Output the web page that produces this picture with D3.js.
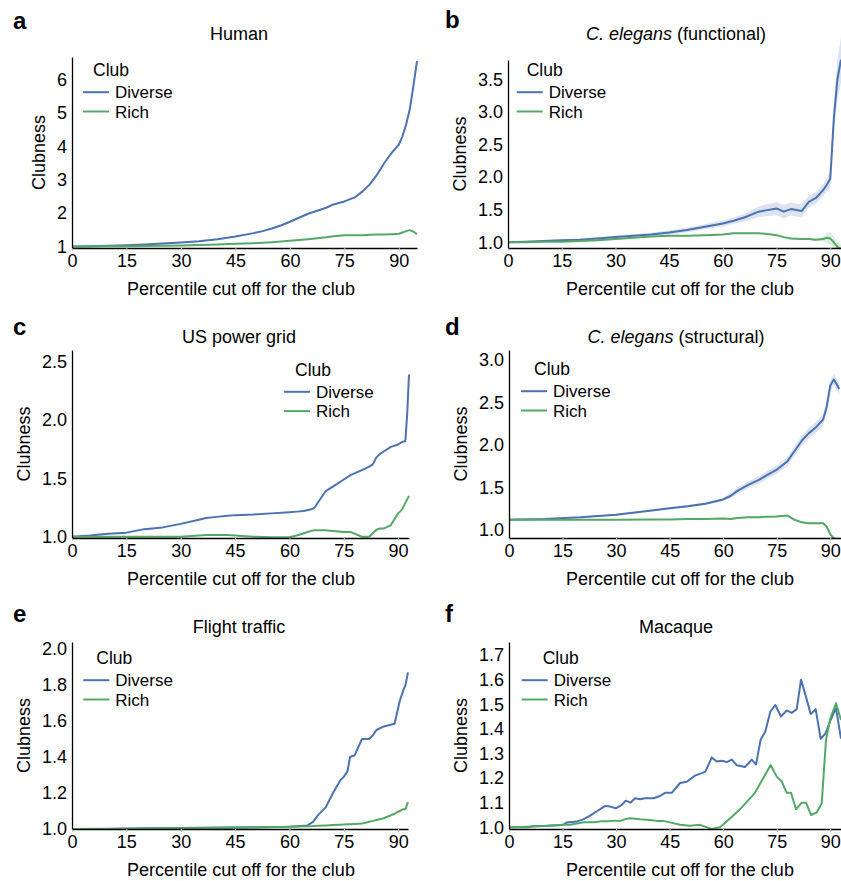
<!DOCTYPE html>
<html>
<head>
<meta charset="utf-8">
<script src="https://cdn.jsdelivr.net/npm/d3@7"></script>
<style>
  body { margin: 0; background: #fff; }
  svg { display: block; font-family: "Liberation Sans", Arial, Helvetica, sans-serif; }
</style>
</head>
<body>
<div id="fig"></div>
<script>

// shared bits
const xTicks = [0, 15, 30, 45, 60, 75, 90];
const seriesNames = ["Diverse", "Rich"];
const seriesColors = ["#4c72b0", "#55a868"];

// a - Human
const humanPct = [0,5,10,15,20,25,30,35,40,45,50,52.5,55,57.5,60,65,70,72,75,78,80,82,84,86,88,90,91,92,93,94,95];
const humanDiverse = [1.0,1.01,1.02,1.04,1.06,1.09,1.12,1.16,1.22,1.3,1.4,1.46,1.54,1.63,1.74,1.98,2.16,2.26,2.35,2.48,2.65,2.86,3.15,3.5,3.8,4.05,4.3,4.65,5.1,5.8,6.55];
const humanRich = [1.0,1.0,1.005,1.01,1.015,1.02,1.03,1.045,1.06,1.08,1.1,1.115,1.13,1.15,1.17,1.22,1.28,1.31,1.34,1.34,1.34,1.35,1.36,1.36,1.37,1.38,1.42,1.46,1.49,1.45,1.37];
const humanTicks = [1, 2, 3, 4, 5, 6];

// b - C. elegans (functional)
const funcPct = [0,5,10,15,20,25,30,35,40,45,50,55,60,63,66,70,72,75,77,79,82,84,86,88,89,90,91,92,93];
const funcDiverse = [1.0,1.01,1.02,1.03,1.04,1.06,1.08,1.1,1.12,1.15,1.19,1.24,1.29,1.33,1.38,1.47,1.49,1.52,1.47,1.51,1.48,1.62,1.68,1.8,1.88,1.97,2.9,3.5,3.8];
const funcDiverseCI = [0.01,0.01,0.015,0.015,0.02,0.02,0.02,0.025,0.025,0.03,0.035,0.04,0.045,0.05,0.06,0.08,0.09,0.1,0.1,0.1,0.1,0.09,0.09,0.09,0.1,0.14,0.22,0.3,0.35];
const funcRich = [1.0,1.0,1.01,1.01,1.02,1.03,1.05,1.07,1.09,1.1,1.1,1.11,1.12,1.14,1.14,1.14,1.13,1.11,1.08,1.06,1.05,1.05,1.04,1.05,1.07,1.06,1.0,0.93,0.9];
const funcRichCI = [0.005,0.005,0.005,0.005,0.005,0.005,0.01,0.01,0.01,0.01,0.01,0.01,0.01,0.01,0.01,0.01,0.01,0.015,0.015,0.015,0.015,0.015,0.02,0.03,0.08,0.1,0.09,0.08,0.07];
const funcTicks = [1.0, 1.5, 2.0, 2.5, 3.0, 3.5];

// c - US power grid
const gridPct = [0,5,10,15,20,25,30,35,37,40,43,45,50,55,60,62,64,66,67,68,70,72,75,77,80,82,83,84,85,86,88,90,91,92,92.5,93];
const gridDiverse = [1.0,1.01,1.025,1.035,1.065,1.08,1.11,1.145,1.16,1.17,1.18,1.185,1.19,1.2,1.21,1.215,1.22,1.235,1.25,1.3,1.39,1.43,1.49,1.53,1.57,1.6,1.62,1.68,1.71,1.73,1.77,1.79,1.81,1.82,2.05,2.39];
const gridRich = [1.0,1.0,1.0,1.0,1.0,1.0,1.0,1.01,1.015,1.015,1.015,1.01,1.0,0.995,0.995,1.01,1.03,1.05,1.055,1.055,1.055,1.05,1.04,1.04,1.0,1.0,1.03,1.06,1.07,1.07,1.1,1.2,1.23,1.29,1.32,1.35];
const gridTicks = [1.0, 1.5, 2.0, 2.5];

// d - C. elegans (structural)
const structPct = [0,10,20,30,40,45,50,55,60,62,64,67,70,72,75,78,80,82,84,86,88,89,90,91,92,92.5];
const structDiverse = [1.12,1.13,1.15,1.18,1.23,1.255,1.28,1.31,1.36,1.4,1.46,1.53,1.59,1.64,1.71,1.81,1.93,2.05,2.14,2.21,2.3,2.45,2.7,2.77,2.7,2.66];
const structDiverseCI = [0.01,0.01,0.01,0.01,0.012,0.012,0.015,0.015,0.02,0.03,0.04,0.04,0.045,0.045,0.05,0.05,0.055,0.06,0.06,0.065,0.065,0.065,0.065,0.065,0.06,0.06];
const structRich = [1.12,1.12,1.12,1.12,1.125,1.125,1.13,1.13,1.135,1.13,1.14,1.15,1.15,1.155,1.16,1.17,1.12,1.09,1.08,1.08,1.08,1.04,0.95,0.9,0.89,0.9];
const structRichCI = [0.005,0.005,0.005,0.005,0.005,0.005,0.008,0.008,0.008,0.01,0.01,0.01,0.01,0.01,0.01,0.01,0.012,0.012,0.012,0.012,0.015,0.015,0.015,0.015,0.015,0.015];
const structTicks = [1.0, 1.5, 2.0, 2.5, 3.0];

// e - Flight traffic
const flightPct = [0,10,20,30,40,50,60,65,66.5,68,70,72,74,75,76,76.7,78,80,82,83,84,86,89,90.4,91.4,92,92.7];
const flightDiverse = [1.0,1.002,1.004,1.006,1.008,1.01,1.012,1.02,1.04,1.08,1.12,1.2,1.27,1.29,1.32,1.4,1.41,1.5,1.5,1.52,1.55,1.57,1.585,1.71,1.77,1.8,1.87];
const flightRich = [1.0,1.0,1.002,1.004,1.006,1.008,1.012,1.015,1.016,1.018,1.02,1.022,1.024,1.025,1.026,1.027,1.028,1.03,1.04,1.045,1.05,1.06,1.085,1.1,1.11,1.11,1.15];
const flightTicks = [1.0, 1.2, 1.4, 1.6, 1.8, 2.0];

// f - Macaque
const macaqueDivPct = [0,2,4,5.3,6.7,8,10,12,14,15.2,16.1,18.9,20.8,22.6,24.5,27,28.3,29.9,31.5,32.7,34,35.3,36.7,38,40.5,42.3,43.7,45.6,47.9,49.8,52.1,54,55,56.8,58.2,59.6,61,62.4,63.8,66.1,68,69.2,70.5,71.8,73.2,74.6,76.2,77.8,79.2,80.6,81.8,83.2,84.5,85.9,87.3,88.6,90.1,91.6,93];
const macaqueDiverse = [1.0,1.0,1.0,1.0,1.004,1.005,1.005,1.007,1.008,1.01,1.019,1.023,1.032,1.046,1.064,1.087,1.084,1.077,1.09,1.108,1.1,1.118,1.114,1.118,1.118,1.127,1.14,1.14,1.18,1.185,1.21,1.22,1.226,1.284,1.267,1.27,1.265,1.275,1.252,1.245,1.275,1.255,1.357,1.389,1.47,1.497,1.45,1.475,1.465,1.48,1.6,1.53,1.46,1.48,1.36,1.38,1.436,1.484,1.36];
const macaqueRichPct = [0,5,10,15,17,19,21,24,26,28,30,31,33,34,36.7,39.5,41.4,43.2,45.1,47.9,50.7,53.5,56.7,59.1,61.9,64.7,68.9,73.3,75,76.4,77.8,79,80.4,82,83.2,84.6,86.2,87.6,88.8,90,91.6,93];
const macaqueRich = [1.0,1.002,1.005,1.01,1.01,1.015,1.02,1.02,1.025,1.025,1.027,1.025,1.035,1.037,1.033,1.03,1.026,1.026,1.02,1.01,1.006,1.01,0.993,1.0,1.036,1.073,1.14,1.253,1.206,1.186,1.14,1.14,1.073,1.1,1.1,1.05,1.06,1.098,1.355,1.443,1.504,1.436];
const macaqueTicks = [1.0, 1.1, 1.2, 1.3, 1.4, 1.5, 1.6, 1.7];

// panel layout (pixel boxes)
const panels = [
  { letter: "a", title: [null, "Human"], box: {left: 72, right: 417, top: 57, bottom: 248},
    xMax: 95, yDomain: [0.955, 6.674], yTicks: humanTicks, fmt: "d",
    letterPos: [13, 29], titlePos: [239, 40], xlabelX: 241, legend: [83, 92.2, 10],
    series: [{pct: humanPct, val: humanDiverse}, {pct: humanPct, val: humanRich}] },
  { letter: "b", title: ["C. elegans", " (functional)"], box: {left: 508, right: 841, top: 60, bottom: 248},
    xMax: 93, yDomain: [0.913, 3.796], yTicks: funcTicks, fmt: ".1f",
    letterPos: [445, 28], titlePos: [676, 40], xlabelX: 680, legend: [516.7, 92.2, 10],
    series: [{pct: funcPct, val: funcDiverse, ci: funcDiverseCI}, {pct: funcPct, val: funcRich, ci: funcRichCI}] },
  { letter: "c", title: [null, "US power grid"], box: {left: 72, right: 409, top: 350, bottom: 538},
    xMax: 93, yDomain: [0.989, 2.6], yTicks: gridTicks, fmt: ".1f",
    letterPos: [13, 335], titlePos: [239, 343], xlabelX: 241, legend: [284, 391.8, 11],
    series: [{pct: gridPct, val: gridDiverse}, {pct: gridPct, val: gridRich}] },
  { letter: "d", title: ["C. elegans", " (structural)"], box: {left: 509, right: 841, top: 350, bottom: 538},
    xMax: 93, yDomain: [0.906, 3.118], yTicks: structTicks, fmt: ".1f",
    letterPos: [445, 335], titlePos: [676, 343], xlabelX: 680, legend: [521, 391.2, 13],
    series: [{pct: structPct, val: structDiverse, ci: structDiverseCI}, {pct: structPct, val: structRich, ci: structRichCI}] },
  { letter: "e", title: [null, "Flight traffic"], box: {left: 72, right: 408, top: 642, bottom: 829},
    xMax: 92.7, yDomain: [1.0, 2.039], yTicks: flightTicks, fmt: ".1f",
    letterPos: [13, 622], titlePos: [239, 633], xlabelX: 241, legend: [83.3, 680.2, 13],
    series: [{pct: flightPct, val: flightDiverse}, {pct: flightPct, val: flightRich}] },
  { letter: "f", title: [null, "Macaque"], box: {left: 509, right: 841, top: 642, bottom: 829},
    xMax: 93, yDomain: [0.993, 1.753], yTicks: macaqueTicks, fmt: ".1f",
    letterPos: [445, 622], titlePos: [676, 633], xlabelX: 680, legend: [521.7, 680.2, 21],
    series: [{pct: macaqueDivPct, val: macaqueDiverse}, {pct: macaqueRichPct, val: macaqueRich}] }
];

const svg = d3.select("#fig")
              .append("svg")
              .attr("width", 841)
              .attr("height", 881);

function drawPanel(p) {
    const box = p.box;
    const x = d3.scaleLinear().domain([0, p.xMax]).range([box.left, box.right]);
    const y = d3.scaleLinear().domain(p.yDomain).range([box.bottom, box.top]);
    const g = svg.append("g");

    // clip below the x axis only, the bands can poke out on top
    g.append("clipPath")
        .attr("id", "clip-" + p.letter)
      .append("rect")
        .attr("x", box.left)
        .attr("y", 0)
        .attr("width", box.right - box.left + 2)
        .attr("height", box.bottom);

    const plot = g.append("g").attr("clip-path", `url(#clip-${p.letter})`);

    p.series.forEach((s, i) => {
        const rows = s.pct.map((v, j) => ({pct: v, val: s.val[j], ci: s.ci ? s.ci[j] : 0}));
        if (s.ci) {
            plot.append("path")
                .datum(rows)
                .attr("fill", seriesColors[i])
                .attr("fill-opacity", 0.2)
                .attr("d", d3.area()
                    .x(d => x(d.pct))
                    .y0(d => y(d.val - d.ci))
                    .y1(d => y(d.val + d.ci)));
        }
        plot.append("path")
            .datum(rows)
            .attr("fill", "none")
            .attr("stroke", seriesColors[i])
            .attr("stroke-width", 2)
            .attr("stroke-linejoin", "round")
            .attr("d", d3.line().x(d => x(d.pct)).y(d => y(d.val)));
    });

    // x axis
    const xAxis = g.append("g")
        .attr("transform", `translate(0,${box.bottom})`)
        .call(d3.axisBottom(x).tickValues(xTicks).tickSize(3).tickSizeOuter(0).tickPadding(3));
    xAxis.select(".domain").attr("stroke", "#000").attr("stroke-width", 1.3);
    xAxis.selectAll(".tick line").attr("stroke", "#c8c8c8");
    xAxis.selectAll("text").attr("font-size", "18px").attr("fill", "#000").attr("font-family", null);

    // y axis
    const yAxis = g.append("g")
        .attr("transform", `translate(${box.left},0)`)
        .call(d3.axisLeft(y).tickValues(p.yTicks).tickFormat(d3.format(p.fmt)).tickSize(0).tickSizeOuter(0).tickPadding(5));
    yAxis.select(".domain").attr("stroke", "#000").attr("stroke-width", 1.3);
    yAxis.selectAll("text").attr("font-size", "18px").attr("fill", "#000").attr("font-family", null);

    let tickW = 0;
    yAxis.selectAll("text").each(function() { tickW = Math.max(tickW, this.getBBox().width); });

    g.append("text")
        .attr("transform", `translate(${box.left - 5 - tickW - 12},${(box.top + box.bottom) / 2}) rotate(-90)`)
        .attr("text-anchor", "middle")
        .attr("font-size", "18px")
        .text("Clubness");

    g.append("text")
        .attr("x", p.xlabelX)
        .attr("y", box.bottom + 47)
        .attr("text-anchor", "middle")
        .attr("font-size", "18px")
        .text("Percentile cut off for the club");

    // title, italic species part if any
    const title = g.append("text")
        .attr("x", p.titlePos[0])
        .attr("y", p.titlePos[1])
        .attr("text-anchor", "middle")
        .attr("font-size", "18px");
    if (p.title[0]) title.append("tspan").attr("font-style", "italic").text(p.title[0]);
    title.append("tspan").text(p.title[1]);

    g.append("text")
        .attr("x", p.letterPos[0])
        .attr("y", p.letterPos[1])
        .attr("font-size", "24px")
        .attr("font-weight", "bold")
        .text(p.letter);

    // legend (entries a touch smaller so they don't collide)
    const [lx, ly, tdx] = p.legend;
    const leg = g.append("g");
    leg.append("text")
        .attr("x", lx + tdx)
        .attr("y", ly - 16)
        .attr("font-size", "17.5px")
        .text("Club");
    seriesNames.forEach((name, i) => {
        const yy = ly + i * 19.3;
        leg.append("line")
            .attr("x1", lx).attr("x2", lx + 26)
            .attr("y1", yy).attr("y2", yy)
            .attr("stroke", seriesColors[i])
            .attr("stroke-width", 2);
        leg.append("text")
            .attr("x", lx + 32)
            .attr("y", yy + 6.2)
            .attr("font-size", "17px")
            .text(name);
    });
}

panels.forEach(drawPanel);

</script>
</body>
</html>
